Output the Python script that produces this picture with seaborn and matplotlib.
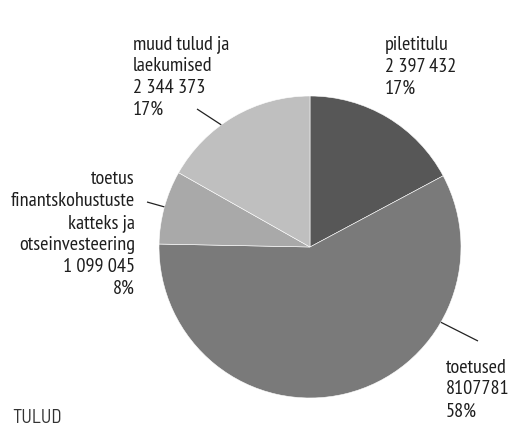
import matplotlib
matplotlib.use("Agg")
import matplotlib.pyplot as plt
import seaborn as sns
import numpy as np

# ---- data ----
categories = ["piletitulu", "toetused",
              "toetus\nfinantskohustuste\nkatteks ja\notseinvesteering",
              "muud tulud ja\nlaekumised"]
values = [2397432, 8107781, 1099045, 2344373]
value_labels = ["2 397 432", "8107781", "1 099 045", "2 344 373"]
colors = ["#575757", "#7a7a7a", "#a9a9a9", "#bfbfbf"]
footer = "TULUD"

sns.set_theme(style="white")
plt.rcParams['font.family'] = ['PT Sans Narrow', 'DejaVu Sans']

W, H = 509, 426
fig = plt.figure(figsize=(W / 100, H / 100), dpi=100)
ax = fig.add_axes([0, 0, 1, 1])
ax.set_xlim(0, W)
ax.set_ylim(0, H)
ax.set_aspect('equal')
ax.axis('off')

cx, cy, R = 310, H - 247, 151
wedges, _ = ax.pie(values, colors=colors, startangle=90, counterclock=False,
                   center=(cx, cy), radius=R,
                   wedgeprops=dict(edgecolor='white', linewidth=0.4))
ax.set_xlim(0, W)
ax.set_ylim(0, H)

total = sum(values)
pcts = [f"{round(v / total * 100):.0f}%" for v in values]
labels = [f"{c}\n{vl}\n{p}" for c, vl, p in zip(categories, value_labels, pcts)]

txt_color = "#1e1e1e"
fs = 14.6
# layout: (x, y_center, ha)
layout = [(385, H - 66.5, 'left'),
          (446, H - 389.5, 'left'),
          (135, H - 234, 'right'),
          (133, H - 77, 'left')]
for lab, (x, y, ha) in zip(labels, layout):
    ax.text(x, y, lab, ha=ha, va='center', fontsize=fs, color=txt_color,
            linespacing=1.28, multialignment=ha)

# leader lines: (angle on pie edge, outer end)
leaders = [(None, None),
           (-29.9, (478, H - 341)),
           (164.6, (147, H - 202)),
           (126.0, (197, H - 109))]
for ang, end in leaders:
    if ang is None:
        continue
    a = np.deg2rad(ang)
    px, py = cx + R * np.cos(a), cy + R * np.sin(a)
    ax.plot([px, end[0]], [py, end[1]], color="#222222", lw=0.9,
            solid_capstyle='butt')

ax.text(12, H - 418, footer, ha='left', va='center', fontsize=13.5,
        color="#333333", family=['Barlow Semi Condensed', 'DejaVu Sans'])

fig.savefig("out.png", dpi=100)
